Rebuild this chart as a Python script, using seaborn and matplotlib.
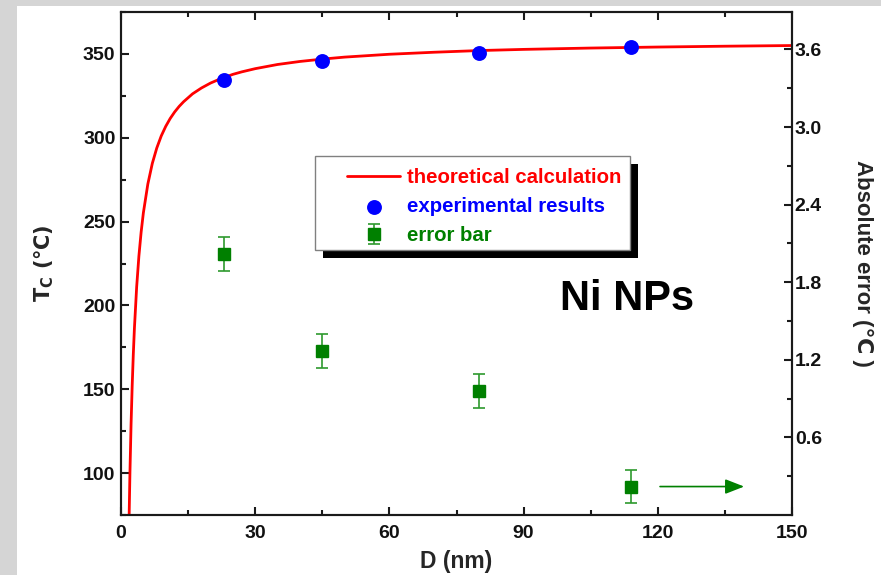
import matplotlib
matplotlib.use('Agg')
import matplotlib.pyplot as plt
import seaborn as sns
from matplotlib.ticker import MultipleLocator, FixedLocator, FormatStrFormatter
from matplotlib.patches import Rectangle

# theoretical Tc curve (D in nm, Tc in deg C)
D_theory = [1.8, 2.0, 2.25, 2.5, 2.75, 3.0, 3.5, 4.0, 4.5, 5.0, 6.0, 7.0, 8.0, 9.0, 10.0,
            11.0, 12.0, 13.0, 14.0, 16.0, 18.0, 20.0, 22.0, 25.0, 27.0, 30.0, 35.0, 40.0, 45.0,
            50.0, 60.0, 70.0, 80.0, 90.0, 105.0, 120.0, 135.0, 150.0]
Tc_theory = [71.7, 100.4, 129.1, 152.0, 170.8, 186.4, 211.0, 229.4, 243.7, 255.2, 272.4, 284.7, 293.9, 301.1, 306.8,
             311.5, 315.4, 318.7, 321.5, 326.2, 329.7, 332.6, 334.9, 337.8, 339.3, 341.2, 343.7, 345.5, 346.9,
             348.1, 349.8, 351.0, 352.0, 352.7, 353.5, 354.1, 354.6, 355.0]

# experimental results
D_exp = [23, 45, 80, 114]
Tc_exp = [334.7, 346.0, 350.6, 354.0]

# absolute error (right axis) with its error bars
D_err = [23, 45, 80, 114]
abs_err = [2.02, 1.27, 0.96, 0.22]
err_bar = [0.13, 0.13, 0.13, 0.13]

x_ticks = [0, 30, 60, 90, 120, 150]
left_ticks = [100, 150, 200, 250, 300, 350]
right_ticks = [0.6, 1.2, 1.8, 2.4, 3.0, 3.6]
right_minor = [0.3, 0.9, 1.5, 2.1, 2.7, 3.3]

legend_labels = ['theoretical calculation', 'experimental results', 'error bar']
legend_colors = ['#ff0000', '#0000ff', '#008000']

sns.set_theme(style='ticks')
plt.rcParams['font.family'] = ['Liberation Sans', 'DejaVu Sans']
plt.rcParams['font.weight'] = 'bold'
plt.rcParams['axes.labelweight'] = 'bold'

fig = plt.figure(figsize=(8.81, 5.75), dpi=100)
fig.patch.set_facecolor('#d5d5d5')
# white panel behind the plot
fig.add_artist(Rectangle((17 / 881, 0), 1, 1 - 6 / 575, transform=fig.transFigure,
                         facecolor='white', edgecolor='none', zorder=-1))

ax = fig.add_axes([121 / 881, 60 / 575, 671 / 881, 503 / 575])
ax2 = ax.twinx()

sns.lineplot(x=D_theory, y=Tc_theory, ax=ax, color='#ff0000', linewidth=2.0,
             label=legend_labels[0], legend=False)
sns.scatterplot(x=D_exp, y=Tc_exp, ax=ax, color='#0000ff', s=115, linewidth=0,
                label=legend_labels[1], legend=False, zorder=3)
ax2.errorbar(D_err, abs_err, yerr=err_bar, fmt='s', color='#008000', ecolor='#2e9a2e',
             markersize=8.5, capsize=4.5, elinewidth=1.2, capthick=1.2, label=legend_labels[2])

# arrow pointing to the right axis
ax2.annotate('', xy=(139.3, 0.22), xytext=(120.5, 0.22),
             arrowprops=dict(arrowstyle='-|>,head_length=1.15,head_width=0.45', mutation_scale=10,
                             color='#008000', lw=1.2, shrinkA=0, shrinkB=0))

ax.set_xlim(0, 150)
ax.set_ylim(75, 375)
ax2.set_ylim(0, 3.89)

ax.set_xticks(x_ticks)
ax.xaxis.set_minor_locator(MultipleLocator(15))
ax.set_yticks(left_ticks)
ax.yaxis.set_minor_locator(MultipleLocator(25))
ax2.set_yticks(right_ticks)
ax2.yaxis.set_minor_locator(FixedLocator(right_minor))
ax2.yaxis.set_major_formatter(FormatStrFormatter('%.1f'))

ax.tick_params(which='both', direction='in', top=True, right=False, width=1.5,
               color='#1a1a1a', labelsize=14, labelcolor='#111111')
ax.tick_params(which='major', length=6)
ax.tick_params(which='minor', length=3.5)
ax.tick_params(axis='x', which='both', pad=7)
ax.tick_params(axis='y', which='both', pad=4)
ax2.tick_params(which='both', direction='in', left=False, right=True, width=1.5,
                color='#1a1a1a', labelsize=14, labelcolor='#111111', pad=2)
ax2.tick_params(which='major', length=6)
ax2.tick_params(which='minor', length=3.5)

for a in (ax, ax2):
    for sp in a.spines.values():
        sp.set_linewidth(1.5)
        sp.set_color('#1a1a1a')

ax.set_xlabel('D (nm)', fontsize=16.5, labelpad=6)
ax.set_ylabel(r'T$_\mathbf{C}$ (℃)', fontsize=15, family='DejaVu Sans')
ax.yaxis.set_label_coords(-0.097, 0.5)
ax2.set_ylabel('Absolute error (℃ )', fontsize=16, rotation=270, va='bottom')
ax2.yaxis.set_label_coords(1.089, 0.5)

ax.text(0.754, 0.4076, 'Ni NPs', transform=ax.transAxes, ha='center', va='baseline',
        fontsize=30, fontweight='bold', color='black')

# legend box with a solid drop shadow
x0, y0, w, h = 0.289, 0.527, 0.47, 0.187
ax2.add_patch(Rectangle((x0 + 0.0119, y0 - 0.0159), w, h, transform=ax2.transAxes,
                        facecolor='black', edgecolor='none', zorder=5.8, clip_on=False))
ax2.add_patch(Rectangle((x0, y0), w, h, transform=ax2.transAxes,
                        facecolor='white', edgecolor='#808080', linewidth=1.0, zorder=5.9, clip_on=False))

h1, l1 = ax.get_legend_handles_labels()
h2, l2 = ax2.get_legend_handles_labels()
leg = ax2.legend(h1 + h2, l1 + l2, loc='center left', bbox_to_anchor=(0.337, 0.613),
                 frameon=False, fontsize=14.7, borderpad=0, handlelength=2.6,
                 handletextpad=0.35, labelspacing=0.5, borderaxespad=0)
leg.set_zorder(7)
for txt, c in zip(leg.get_texts(), legend_colors):
    txt.set_color(c)

fig.savefig('out.png', dpi=100)
